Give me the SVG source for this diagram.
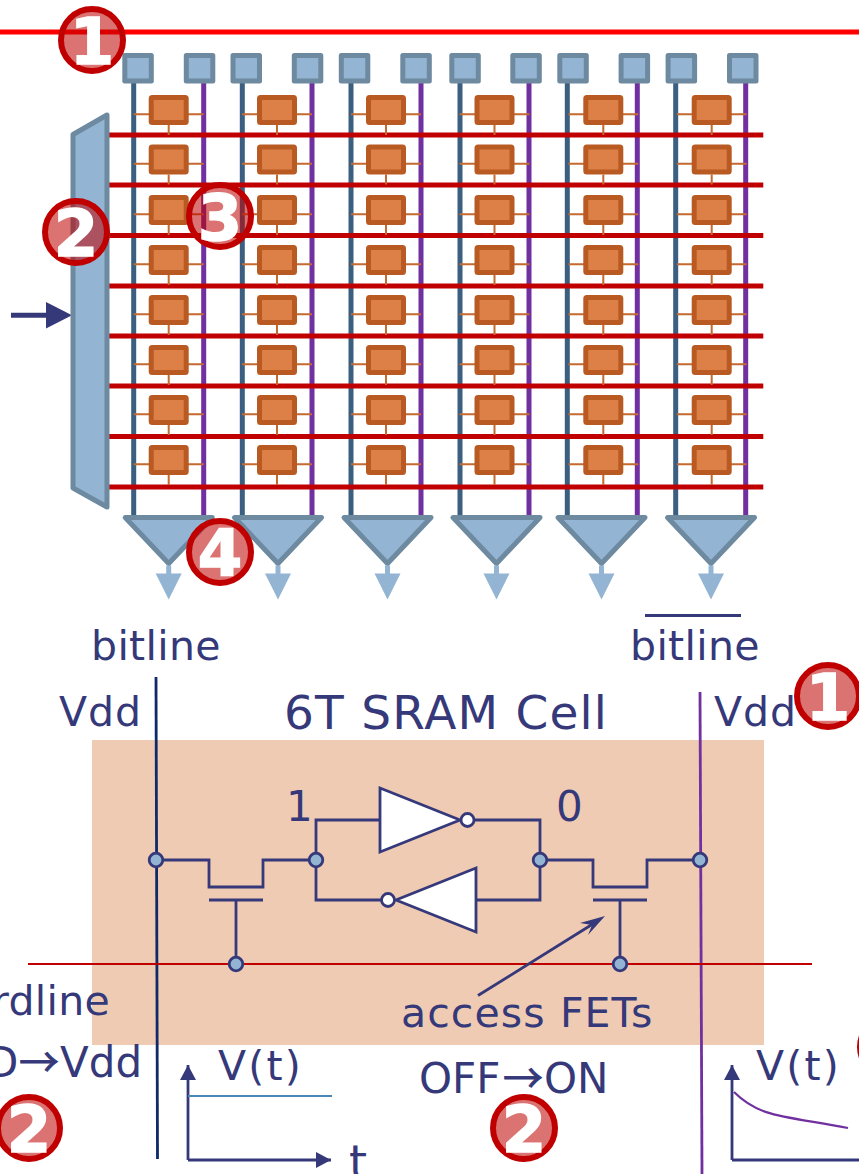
<svg xmlns="http://www.w3.org/2000/svg" width="859" height="1174" viewBox="0 0 859 1174">
<style>
text{font-family:"DejaVu Sans",sans-serif;fill:#35397a;font-size:41px}
.blue{fill:#93b4d3;stroke:#6d8aa0;stroke-width:5;stroke-linejoin:round}
.bl{stroke:#3b5f80;stroke-width:5;fill:none}
.pl{stroke:#7030a0;stroke-width:5;fill:none}
.wl{stroke:#c00000;stroke-width:5;fill:none}
.w{stroke:#35397a;stroke-width:2.800;fill:none}
.inv{stroke:#35397a;stroke-width:2.800;fill:#fff}
.dot{fill:#93b4d3;stroke:#35397a;stroke-width:2.800}
.out{stroke:#93b4d3;stroke-width:5;fill:none}
.bc{fill:#c00000;fill-opacity:.55;stroke:#c00000;stroke-width:6}
.bt{font-family:"DejaVu Sans",sans-serif;font-weight:bold;font-size:64px;fill:#fff;stroke:#fff;stroke-width:1.500;text-anchor:middle}
.ar{font-family:"Noto Sans CJK SC",sans-serif;font-size:40px;stroke:#35397a;stroke-width:.8}
</style>
<defs>
<g id="cell"><path d="M-35 4.300H35M0 15V25" stroke="#c46a30" stroke-width="2" fill="none"/><rect x="-17.500" y="-12.500" width="35" height="25" rx="1" fill="#dd8047" stroke="#b85a22" stroke-width="5" stroke-linejoin="round"/></g>
<g id="sq"><rect x="-13.200" y="-12.800" width="26.500" height="25.600" class="blue"/></g>
<g id="sa"><polygon points="-43.500,0 43.500,0 0,46" class="blue"/><path d="M0 48V58" class="out"/><polygon points="-13,56 13,56 0,82" fill="#93b4d3"/></g>
<marker id="ah" markerUnits="userSpaceOnUse" markerWidth="16" markerHeight="16" refX="15" refY="8" orient="auto"><path d="M0 0L15 8L0 16Z" fill="#35397a"/></marker>
</defs>
<rect id="cell-background" x="92" y="740" width="672" height="305" fill="#f0cbb3"/>
<g id="connectors">
<path d="M0 32H859" stroke="#ff0000" stroke-width="5"/>
<path class="bl" d="M133.700 83V517M242.300 83V517M351 83V517M460 83V517M567.300 83V517M675.700 83V517"/>
<path class="pl" d="M203.700 83V517M312 83V517M421 83V517M529 83V517M637.300 83V517M745.700 83V517"/>
<path class="wl" d="M108 135H763.300M108 185H763.300M108 235.500H763.300M108 286H763.300M108 336H763.300M108 386H763.300M108 436.500H763.300M108 487H763.300"/>
<path d="M11 315.300H47" stroke="#35397a" stroke-width="5"/><polygon points="46,302 72,315.300 46,328.500" fill="#35397a"/>
<path d="M156 677L157.500 1159" stroke="#0f2a66" stroke-width="2.800"/>
<path d="M700 692L702 1174" stroke="#7030a0" stroke-width="2.800"/>
<path d="M28 964H812" stroke="#c00000" stroke-width="2.200"/>
<path class="w" d="M156 860H209V887H263V860H316M209 900H263M236 900V964"/>
<path class="w" d="M540 860H593V887H647V860H700M593 900H647M620 900V964"/>
<path class="w" d="M316 860V820H380M474 820H540V860M316 860V900H381M476 900H540V860"/>
<path d="M478 995.500L596 922" class="w"/><polygon points="605,916 580,923 592,925 588,935" fill="#35397a"/>
<path d="M645 615.500H741" class="w"/>
<path d="M188 1160V1065" class="w" marker-end="url(#ah)"/>
<path d="M188 1160H331" class="w" marker-end="url(#ah)"/>
<path d="M188 1096H332" stroke="#4a86b8" stroke-width="2" fill="none"/>
<path d="M732 1160V1065" class="w" marker-end="url(#ah)"/>
<path d="M732 1160H859" class="w"/>
<path d="M734 1092C760 1118 785 1116 848 1128" stroke="#7030a0" stroke-width="2.200" fill="none"/>
</g>
<g id="mux"><polygon points="73,134.500 107,115 107,507 73,488" class="blue"/></g>
<g id="pads">
<use href="#sq" x="138" y="68.300"/><use href="#sq" x="199.500" y="68.300"/><use href="#sq" x="246.200" y="68.300"/><use href="#sq" x="307.500" y="68.300"/><use href="#sq" x="354.500" y="68.300"/><use href="#sq" x="416" y="68.300"/><use href="#sq" x="465" y="68.300"/><use href="#sq" x="526" y="68.300"/><use href="#sq" x="573" y="68.300"/><use href="#sq" x="634.300" y="68.300"/><use href="#sq" x="681.300" y="68.300"/><use href="#sq" x="742.700" y="68.300"/>
</g>
<g id="cells">
<use href="#cell" x="168.700" y="110"/><use href="#cell" x="168.700" y="159.500"/><use href="#cell" x="168.700" y="210"/><use href="#cell" x="168.700" y="260"/><use href="#cell" x="168.700" y="310"/><use href="#cell" x="168.700" y="360"/><use href="#cell" x="168.700" y="410"/><use href="#cell" x="168.700" y="460"/>
<use href="#cell" x="277" y="110"/><use href="#cell" x="277" y="159.500"/><use href="#cell" x="277" y="210"/><use href="#cell" x="277" y="260"/><use href="#cell" x="277" y="310"/><use href="#cell" x="277" y="360"/><use href="#cell" x="277" y="410"/><use href="#cell" x="277" y="460"/>
<use href="#cell" x="386" y="110"/><use href="#cell" x="386" y="159.500"/><use href="#cell" x="386" y="210"/><use href="#cell" x="386" y="260"/><use href="#cell" x="386" y="310"/><use href="#cell" x="386" y="360"/><use href="#cell" x="386" y="410"/><use href="#cell" x="386" y="460"/>
<use href="#cell" x="494.500" y="110"/><use href="#cell" x="494.500" y="159.500"/><use href="#cell" x="494.500" y="210"/><use href="#cell" x="494.500" y="260"/><use href="#cell" x="494.500" y="310"/><use href="#cell" x="494.500" y="360"/><use href="#cell" x="494.500" y="410"/><use href="#cell" x="494.500" y="460"/>
<use href="#cell" x="603.300" y="110"/><use href="#cell" x="603.300" y="159.500"/><use href="#cell" x="603.300" y="210"/><use href="#cell" x="603.300" y="260"/><use href="#cell" x="603.300" y="310"/><use href="#cell" x="603.300" y="360"/><use href="#cell" x="603.300" y="410"/><use href="#cell" x="603.300" y="460"/>
<use href="#cell" x="711.700" y="110"/><use href="#cell" x="711.700" y="159.500"/><use href="#cell" x="711.700" y="210"/><use href="#cell" x="711.700" y="260"/><use href="#cell" x="711.700" y="310"/><use href="#cell" x="711.700" y="360"/><use href="#cell" x="711.700" y="410"/><use href="#cell" x="711.700" y="460"/>
</g>
<g id="sense-amps">
<use href="#sa" x="168.700" y="517.500"/><use href="#sa" x="278" y="517.500"/><use href="#sa" x="387.500" y="517.500"/><use href="#sa" x="496.500" y="517.500"/><use href="#sa" x="601.500" y="517.500"/><use href="#sa" x="711" y="517.500"/>
</g>
<g id="inverter-top"><polygon points="380,788 380,852 460,820" class="inv"/><circle cx="467.500" cy="820" r="6.500" class="inv"/></g>
<g id="inverter-bottom"><polygon points="476,868 476,932 396,900" class="inv"/><circle cx="388" cy="900" r="6.500" class="inv"/></g>
<g id="junctions">
<circle cx="156" cy="860" r="6.800" class="dot"/><circle cx="316" cy="860" r="6.800" class="dot"/><circle cx="540" cy="860" r="6.800" class="dot"/><circle cx="700" cy="860" r="6.800" class="dot"/><circle cx="236" cy="964" r="6.800" class="dot"/><circle cx="620" cy="964" r="6.800" class="dot"/>
</g>
<g id="labels">
<text x="91" y="660" letter-spacing=".35">bitline</text>
<text x="630" y="660" letter-spacing=".35">bitline</text>
<text x="59" y="726" letter-spacing="1">Vdd</text>
<text x="714" y="726" letter-spacing="1">Vdd</text>
<text x="284" y="729" letter-spacing="1.200" style="font-size:47px">6T SRAM Cell</text>
<text x="286" y="821" style="font-size:42px">1</text>
<text x="556" y="821" style="font-size:42px">0</text>
<text x="401" y="1027" letter-spacing="1.100">access FETs</text>
<text x="110" y="1015" text-anchor="end" letter-spacing=".3">rdline</text>
<text y="1077" style="font-size:42px"><tspan x="-14">D</tspan><tspan x="19" class="ar">→</tspan><tspan x="60">Vdd</tspan></text>
<text y="1093" style="font-size:42px"><tspan x="419">OFF</tspan><tspan x="503" class="ar">→</tspan><tspan x="544">ON</tspan></text>
<text x="218" y="1080" letter-spacing="2.200">V(t)</text>
<text x="756" y="1080" letter-spacing="2.200">V(t)</text>
<text x="349" y="1178" style="font-size:46px">t</text>
</g>
<g id="badge-1a"><circle cx="92" cy="40" r="31" class="bc"/><text x="92" y="64" class="bt">1</text></g>
<g id="badge-2a"><circle cx="76" cy="232" r="31" class="bc"/><text x="76" y="256" class="bt">2</text></g>
<g id="badge-3"><circle cx="220" cy="216" r="31" class="bc"/><text x="220" y="240" class="bt">3</text></g>
<g id="badge-4"><circle cx="220" cy="552" r="31" class="bc"/><text x="220" y="576" class="bt">4</text></g>
<g id="badge-1b"><circle cx="828" cy="696" r="31" class="bc"/><text x="828" y="720" class="bt">1</text></g>
<g id="badge-2b"><circle cx="29" cy="1128" r="31" class="bc"/><text x="29" y="1152" class="bt">2</text></g>
<g id="badge-2c"><circle cx="524" cy="1128" r="31" class="bc"/><text x="524" y="1152" class="bt">2</text></g>
<g id="badge-clipped"><circle cx="891" cy="1047" r="31" class="bc"/></g>
</svg>
